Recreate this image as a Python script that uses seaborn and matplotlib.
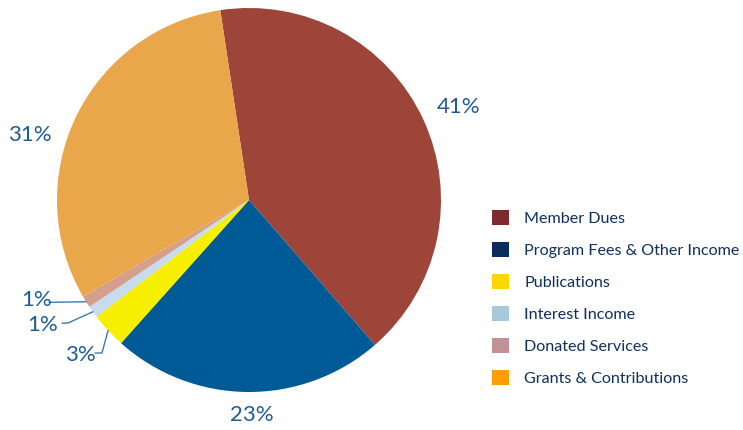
import matplotlib
matplotlib.use("Agg")
import matplotlib.pyplot as plt
from matplotlib.patches import Patch
import numpy as np
import seaborn as sns

categories = ["Member Dues", "Program Fees & Other Income", "Publications",
              "Interest Income", "Donated Services", "Grants & Contributions"]
values = [41, 23, 3, 1, 1, 31]
pct_labels = ["41%", "23%", "3%", "1%", "1%", "31%"]
pie_colors = ["#9C4538", "#005A96", "#F6F000", "#C8DCF0", "#D4A08C", "#EAA64A"]
legend_colors = ["#7F2A2D", "#0B2C5E", "#FFD700", "#A6CADB", "#C09293", "#FF9E00"]

sns.set_theme(style="white")
plt.rcParams["font.family"] = ["Lato", "DejaVu Sans"]

W, H = 743, 430
fig = plt.figure(figsize=(W / 100, H / 100), dpi=100)
cx, cy, R = 249, 200, 192
ax = fig.add_axes([(cx - R) / W, (H - cy - R) / H, 2 * R / W, 2 * R / H])

wedges, _ = ax.pie(values, colors=pie_colors, startangle=98.6, counterclock=False,
                   radius=1.0, wedgeprops=dict(linewidth=0))
ax.set_xlim(-1, 1)
ax.set_ylim(-1, 1)
ax.set_aspect("equal")
ax.axis("off")

label_color = "#1E5C96"
label_pos = {0: (1.089, 0.484), 1: (0.016, -1.12), 5: (-1.141, 0.339),
             4: (-1.104, -0.521), 3: (-1.073, -0.651), 2: (-0.880, -0.807)}
leaders = {4: [(-1.042, -0.533)], 3: [(-0.974, -0.641), (-0.943, -0.641)],
           2: [(-0.802, -0.797), (-0.766, -0.797)]}
for i, w in enumerate(wedges):
    x, y = label_pos[i]
    ax.text(x, y, pct_labels[i], ha="center", va="center", fontsize=16,
            color=label_color, clip_on=False)
    if i in leaders:
        mid = np.deg2rad((w.theta1 + w.theta2) / 2)
        pts = leaders[i] + [(np.cos(mid), np.sin(mid))]
        xs, ys = zip(*pts)
        ax.plot(xs, ys, color="#3A7AB0", lw=1.0, clip_on=False)

handles = [Patch(facecolor=c, edgecolor="none") for c in legend_colors]
fig.legend(handles, categories, loc="upper left",
           bbox_to_anchor=(492 / W, 1 - 210 / H), frameon=False,
           prop=dict(family=["Lato", "DejaVu Sans"], size=11.6),
           labelcolor="#0D2F5E", handlelength=1.05, handleheight=1.05,
           handletextpad=0.95, labelspacing=1.0, borderaxespad=0, borderpad=0)

fig.savefig("out.png", dpi=100)
